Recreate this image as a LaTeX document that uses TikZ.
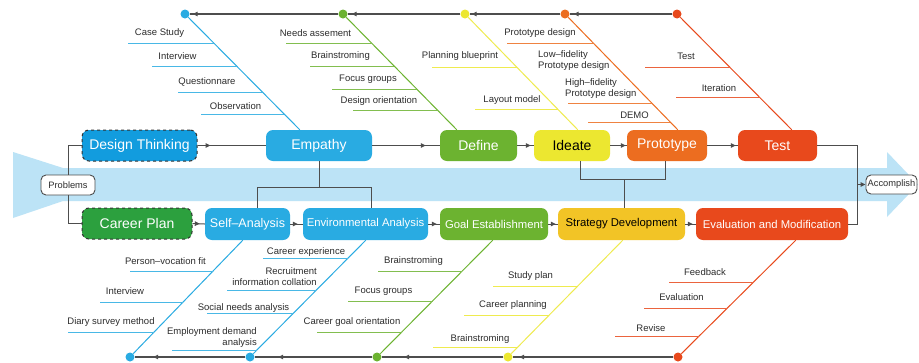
\documentclass[tikz,border=0pt]{standalone}
\usepackage{fontspec}
\setmainfont{Liberation Sans}
\usetikzlibrary{arrows.meta,calc,decorations.markings}

\definecolor{cBlue}{RGB}{41,171,226}
\definecolor{cDeep}{RGB}{18,156,222}
\definecolor{cGreen}{RGB}{108,179,48}
\definecolor{cForest}{RGB}{44,160,62}
\definecolor{cYellow}{RGB}{236,231,48}
\definecolor{cGold}{RGB}{242,196,38}
\definecolor{cOrange}{RGB}{236,109,32}
\definecolor{cRed}{RGB}{232,73,28}
\definecolor{cBand}{RGB}{188,227,246}
\definecolor{cLine}{RGB}{77,77,77}
\definecolor{cText}{RGB}{45,45,45}

\tikzset{
  stage/.style={rounded corners=7pt, minimum height=31pt, inner sep=0pt,
    text=white, font=\fontsize{14}{16}\selectfont},
  substage/.style={stage, minimum height=32pt, font=\fontsize{11.3}{13}\selectfont},
  outline/.style={draw=black!80, dashed, line width=1pt},
  pill/.style={draw=cLine, line width=0.9pt, fill=white, rounded corners=5pt,
    inner sep=1pt, font=\fontsize{9.3}{11}\selectfont, text=cText},
  conn/.style={draw=cLine, line width=1pt},
  flow/.style={conn, postaction={decorate}, decoration={markings,
    mark=at position #1 with {\arrow{Triangle[length=5pt,width=4.5pt]}}}},
  spine/.style={draw=cLine, line width=1.3pt, postaction={decorate},
    decoration={markings,
    mark=at position -#1 with {\arrow{Triangle[length=5pt,width=4.5pt]}}}},
  dot/.style={circle, fill=#1, inner sep=0pt, minimum size=9pt},
  bone/.style={draw=#1, line width=1pt},
  rib/.style={draw=#1!85!white, line width=0.9pt},
  lbl/.style={font=\fontsize{9.5}{11}\selectfont, text=cText, inner sep=0pt},
}

\begin{document}
\begin{tikzpicture}[x=1pt, y=-1pt]
\useasboundingbox (0,0) rectangle (919,362);
\fill[white] (0,0) rectangle (919,362);

% big background arrow
\fill[cBand] (13,152) -- (63,168) -- (887,168) -- (887,152) -- (918,184.5)
  -- (887,217) -- (887,201) -- (63,201) -- (13,218) -- cycle;

% design thinking row
\node[stage, outline, fill=cDeep, minimum width=115pt] (dt) at (139.5,145.5) {Design Thinking};
\node[stage, fill=cBlue, minimum width=106pt] (emp) at (319,145.5) {Empathy};
\node[stage, fill=cGreen, minimum width=77pt] (def) at (478.5,145.5) {Define};
\node[stage, fill=cYellow, text=black, minimum width=76pt] (ide) at (572,145.5) {Ideate};
\node[stage, fill=cOrange, minimum width=80pt] (pro) at (667,145.5) {Prototype};
\node[stage, fill=cRed, minimum width=79pt] (tst) at (777.5,145.5) {Test};

% career plan row
\node[stage, outline, fill=cForest, minimum height=31pt, minimum width=110pt] (cp) at (137,223.5) {Career Plan};
\node[substage, fill=cBlue, minimum width=85pt, font=\fontsize{12.5}{14}\selectfont] (sa) at (247.5,224) {Self–Analysis};
\node[substage, fill=cBlue, minimum width=125pt] (ea) at (365.5,224) {Environmental Analysis};
\node[substage, fill=cGreen, minimum width=108pt] (ge) at (494,224) {Goal Establishment};
\node[substage, fill=cGold, text=black, minimum width=127pt] (sd) at (621.5,224) {Strategy Development};
\node[substage, fill=cRed, minimum width=152pt] (em) at (772,224) {Evaluation and Modification};

% start and end
\node[pill, minimum width=54pt, minimum height=20pt] (prob) at (68,185) {Problems};
\node[pill, minimum width=51pt, minimum height=19pt] (acc) at (891.5,184.5) {Accomplish};

% flow connectors
\draw[conn] (prob.north) |- (dt.west);
\draw[conn] (prob.south) |- (cp.west);
\draw[flow=13pt] (dt.east) -- (emp.west);
\draw[flow=-14pt] (emp.east) -- (def.west);
\draw[flow=-3pt] (def.east) -- (ide.west);
\draw[flow=-1pt] (ide.east) -- (pro.west);
\draw[flow=-2pt] (pro.east) -- (tst.west);
\draw[flow=-5pt] (cp.east) -- (sa.west);
\draw[flow=-5pt] (sa.east) -- (ea.west);
\draw[flow=-3pt] (ea.east) -- (ge.west);
\draw[flow=-2pt] (ge.east) -- (sd.west);
\draw[flow=-3pt] (sd.east) -- (em.west);

\coordinate (join) at (857,184.5);
\draw[conn] (tst.east) -| (join);
\draw[conn] (em.east) -| (join);
\draw[conn, -{Triangle[length=5pt,width=4.5pt]}] (join) -- (acc.west);

% links between the two rows
\coordinate (busL) at (257,187);
\coordinate (busR) at (371,187);
\draw[conn] (emp.south) -- (emp.south |- busL);
\draw[conn] (busL |- sa.north) -- (busL) -- (busR) -- (busR |- ea.north);

\coordinate (busA) at (580,179);
\coordinate (busB) at (665,179);
\coordinate (busC) at (624,179);
\draw[conn] (busA |- ide.south) -- (busA) -- (busB) -- (busB |- pro.south);
\draw[conn] (busC) -- (busC |- sd.north);

% upper fishbone
\node[dot=cBlue] (t1) at (185,14) {};
\node[dot=cGreen] (t2) at (343,14) {};
\node[dot=cYellow] (t3) at (465,14) {};
\node[dot=cOrange] (t4) at (565,14) {};
\node[dot=cRed] (t5) at (677,14) {};
\draw[spine=4pt] (t5) -- (t4);
\draw[spine=2pt] (t4) -- (t3);
\draw[spine=4pt] (t3) -- (t2);
\draw[spine=3pt] (t2) -- (t1);

\draw[bone=cBlue] (t1) -- ($(emp.north west)+(34,0)$);
\draw[bone=cGreen] (t2) -- ($(def.north west)+(17,0)$);
\draw[bone=cYellow!85!white] (t3) -- ($(ide.north west)+(44,0)$);
\draw[bone=cOrange] (t4) -- ($(pro.north west)+(51,0)$);
\draw[bone=cRed] (t5) -- ($(tst.north west)+(54,0)$);

\foreach \y/\xa/\xb in {43/128/213.7, 66/152/236.5, 92/178/262.3, 114/201/284.1}
  \draw[rib=cBlue] (\xa,\y) -- (\xb,\y);
\foreach \y/\xa/\xb in {43/286/371.5, 66/310/394.1, 89/332/416.7, 110/353/437.4}
  \draw[rib=cGreen] (\xa,\y) -- (\xb,\y);
\foreach \y/\xa/\xb in {67/432/516.6, 109/475/557.5}
  \draw[rib=cYellow] (\xa,\y) -- (\xb,\y);
\foreach \y/\xa/\xb in {43/507/593.2, 103/568/651.7, 122/588/670.2}
  \draw[rib=cOrange] (\xa,\y) -- (\xb,\y);
\foreach \y/\xa/\xb in {67/645/729.5, 97/676/759.3}
  \draw[rib=cRed] (\xa,\y) -- (\xb,\y);

\node[lbl] at (159.5,33) {Case Study};
\node[lbl] at (177.5,56) {Interview};
\node[lbl] at (207,82) {Questionnare};
\node[lbl] at (235.5,106) {Observation};
\node[lbl] at (315.5,33) {Needs assement};
\node[lbl] at (340.5,56) {Brainstroming};
\node[lbl] at (368,79) {Focus groups};
\node[lbl] at (379,101) {Design orientation};
\node[lbl] at (460,56) {Planning blueprint};
\node[lbl] at (512,100) {Layout model};
\node[lbl] at (540,33) {Prototype design};
\node[lbl, align=left, anchor=west] at (538,61) {Low–fidelity\\Prototype design};
\node[lbl, align=left, anchor=west] at (565,89) {High–fidelity\\Prototype design};
\node[lbl] at (634.5,115) {DEMO};
\node[lbl] at (686,56) {Test};
\node[lbl] at (719,88) {Iteration};

% lower fishbone
\node[dot=cBlue] (b1) at (130,357) {};
\node[dot=cBlue] (b2) at (250,357) {};
\node[dot=cGreen] (b3) at (377,357) {};
\node[dot=cYellow] (b4) at (508,357) {};
\node[dot=cRed] (b5) at (678,357) {};
\draw[spine=6.5pt] (b5) -- (b4);
\draw[spine=22.5pt] (b4) -- (b3);
\draw[spine=23.5pt] (b3) -- (b2);
\draw[spine=18.5pt] (b2) -- (b1);

\draw[bone=cBlue] ($(sa.south west)+(38,0)$) -- (b1);
\draw[bone=cBlue] ($(ea.south west)+(63,0)$) -- (b2);
\draw[bone=cGreen] ($(ge.south west)+(53,0)$) -- (b3);
\draw[bone=cYellow!85!white] ($(sd.south west)+(65,0)$) -- (b4);
\draw[bone=cRed] ($(em.south west)+(100,0)$) -- (b5);

\foreach \y/\xa/\xb in {271/130/213.1, 302/100/183.1, 332/68/154.1}
  \draw[rib=cBlue] (\xa,\y) -- (\xb,\y);
\foreach \y/\xa/\xb in {258/263/348.2, 290/227/316.4, 313/207/293.6, 350/172/257}
  \draw[rib=cBlue] (\xa,\y) -- (\xb,\y);
\foreach \y/\xa/\xb in {271/378/462.3, 301/348/432.5, 332/317/401.8}
  \draw[rib=cGreen] (\xa,\y) -- (\xb,\y);
\foreach \y/\xa/\xb in {286/493/577.8, 315/464/549.3, 347/433/517.8}
  \draw[rib=cYellow] (\xa,\y) -- (\xb,\y);
\foreach \y/\xa/\xb in {282/669/753.6, 308/644/727.4, 336/615/699.1}
  \draw[rib=cRed] (\xa,\y) -- (\xb,\y);

\node[lbl] at (165.5,261) {Person–vocation fit};
\node[lbl] at (125,291) {Interview};
\node[lbl] at (111,322) {Diary survey method};
\node[lbl] at (306,252) {Career experience};
\node[lbl, align=right, anchor=east] at (317,277) {Recruitment\\information collation};
\node[lbl] at (243.5,308) {Social needs analysis};
\node[lbl, align=right, anchor=east] at (257,338) {Employment demand\\analysis};
\node[lbl] at (413.5,261) {Brainstroming};
\node[lbl] at (383.5,291) {Focus groups};
\node[lbl] at (352,322) {Career goal orientation};
\node[lbl] at (530.5,276) {Study plan};
\node[lbl] at (513,305) {Career planning};
\node[lbl] at (480,339) {Brainstroming};
\node[lbl] at (705,272) {Feedback};
\node[lbl] at (681.5,297) {Evaluation};
\node[lbl] at (651,328) {Revise};
\end{tikzpicture}
\end{document}
